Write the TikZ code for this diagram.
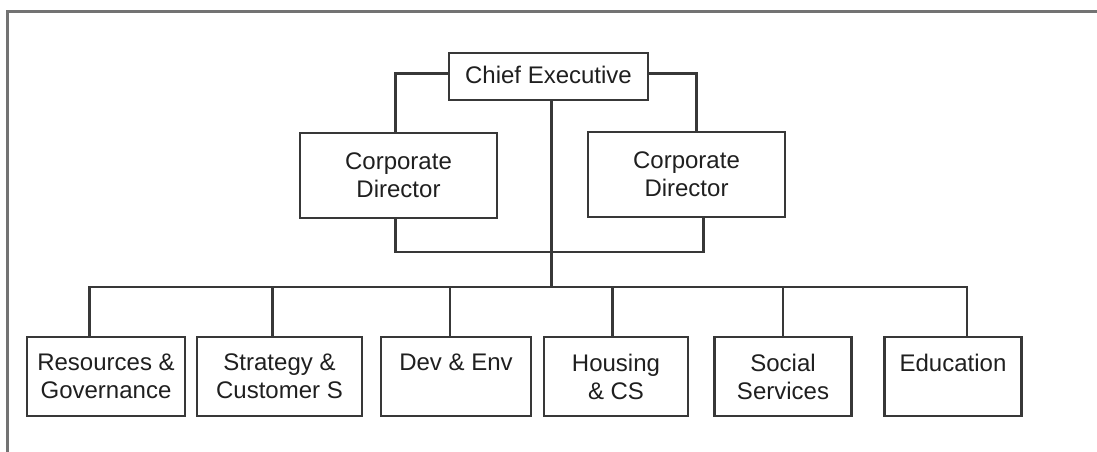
\documentclass[tikz,border=0pt]{standalone}
\usepackage{fontspec}
\setmainfont{Liberation Sans}
\begin{document}
\begin{tikzpicture}[x=1pt,y=-1pt,
  unit/.style={draw=black!78, line width=2.1pt, rectangle, inner sep=0pt,
    align=center, text=black!88, font=\fontsize{24}{28}\selectfont},
  link/.style={draw=black!78, line width=2.1pt},
  frameline/.style={draw=black!55, line width=3pt}]
\useasboundingbox (0,0) rectangle (1097,452);
% outer frame (top and left edges only)
\draw[frameline] (7,452) -- (7,12) -- (1097,12);

% top level
\node[unit, minimum width=199pt, minimum height=47pt] (ce) at (548.5,76.5) {\raisebox{3pt}{Chief Executive}};
\node[unit, minimum width=197pt, minimum height=85pt] (cd1) at (398.5,175.5) {Corporate\\Director};
\node[unit, minimum width=197pt, minimum height=85pt] (cd2) at (686.5,174.5) {Corporate\\Director};

% departments
\node[unit, minimum width=158pt, minimum height=79pt] (b1) at (106,376.5) {Resources \&\\Governance};
\node[unit, minimum width=165pt, minimum height=79pt] (b2) at (279.5,376.5) {Strategy \&\\Customer S};
\node[unit, minimum width=150pt, minimum height=79pt] (b3) at (456,376.5) {Dev \& Env\\\mbox{}};
\node[unit, minimum width=144pt, minimum height=79pt] (b4) at (616,376.5) {Housing\\\& CS};
\node[unit, minimum width=137pt, minimum height=79pt] (b5) at (783,376.5) {Social\\Services};
\node[unit, minimum width=137pt, minimum height=79pt] (b6) at (953,376.5) {Education\\\mbox{}};

% junctions on the trunk
\coordinate (join) at (551.5,252);
\coordinate (bus) at (551.5,287);

% chief executive to corporate directors
\draw[link] ([yshift=3pt]ce.west) -| ([xshift=-3pt]cd1.north);
\draw[link] ([yshift=3pt]ce.east) -| ([xshift=10pt]cd2.north);
\draw[link] ([xshift=-3pt]cd1.south) |- (join);
\draw[link] ([xshift=17pt]cd2.south) |- (join);
\draw[link] ([xshift=3pt]ce.south) -- (bus);

% bus to departments
\draw[link] ([xshift=-16.5pt]b1.north) |- (bus);
\draw[link] ([xshift=-7pt]b2.north) |- (bus);
\draw[link] ([xshift=-6pt]b3.north) |- (bus);
\draw[link] ([xshift=-3.5pt]b4.north) |- (bus);
\draw[link] (b5.north) |- (bus);
\draw[link] ([xshift=14pt]b6.north) |- (bus);
\end{tikzpicture}
\end{document}
